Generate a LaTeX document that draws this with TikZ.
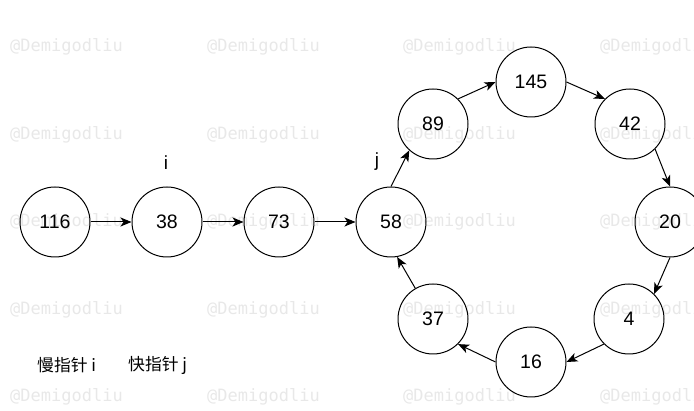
\documentclass[tikz,border=0pt]{standalone}
\usepackage{fontspec}
\setmainfont{Liberation Sans}
\newfontfamily\cjk{Noto Sans CJK SC}
\newfontfamily\wmfont{DejaVu Sans Mono}
\usetikzlibrary{arrows.meta}
\begin{document}
\begin{tikzpicture}[x=1pt,y=-1pt,
  nd/.style={circle,draw=black,line width=1pt,minimum size=70pt,inner sep=0pt,font=\fontsize{19.5}{19.5}\selectfont},
  arr/.style={-{Stealth[length=11pt,width=9pt,inset=3pt]},line width=1pt},
  lbl/.style={font=\fontsize{19}{19}\selectfont,inner sep=0pt},
  cn/.style={font=\cjk\fontsize{16.8}{16.8}\selectfont,inner sep=0pt,anchor=west},
  wm/.style={font=\wmfont\fontsize{17}{17}\selectfont,text=black,text opacity=0.09,inner sep=0pt,anchor=west}
]
\useasboundingbox (0,0) rectangle (694,411);
\fill[white] (0,0) rectangle (694,411);

\node[nd] (n116) at (55,222) {116};
\node[nd] (n38)  at (167,222) {38};
\node[nd] (n73)  at (279,222) {73};
\node[nd] (n58)  at (391,222) {58};
\node[nd] (n89)  at (433,124) {89};
\node[nd] (n145) at (531,82) {145};
\node[nd] (n42)  at (630,124) {42};
\node[nd] (n20)  at (670,222) {20};
\node[nd] (n4)   at (629,319) {4};
\node[nd] (n16)  at (531,362) {16};
\node[nd] (n37)  at (433,319) {37};

\node[lbl] (li) at (166,163) {i};
\node[lbl] (lj) at (377,162) {j};

\node[cn] (slow) at (37,365) {慢指针 i};
\node[cn] (fast) at (128,365) {快指针 j};

\draw[arr] (n116.east) -- (n38.west);
\draw[arr] (n38.east) -- (n73.west);
\draw[arr] (n73.east) -- (n58.west);
\draw[arr] (n58.north) -- (n89.228);
\draw[arr] (n89.north east) -- (n145.west);
\draw[arr] (n145.east) -- (n42.north west);
\draw[arr] (n42.south east) -- (n20.north);
\draw[arr] (n20.south) -- (n4.north east);
\draw[arr] (n4.south west) -- (n16.east);
\draw[arr] (n16.west) -- (n37.south east);
\draw[arr] (n37.120) -- (n58.-80);

\foreach \yy [count=\r] in {47,135,222,310,397}{
  \foreach \xx [count=\c] in {10,207,403,600}{
    \node[wm] (wm-\r-\c) at (\xx,\yy) {@Demigodliu};
  }
}
\end{tikzpicture}
\end{document}
